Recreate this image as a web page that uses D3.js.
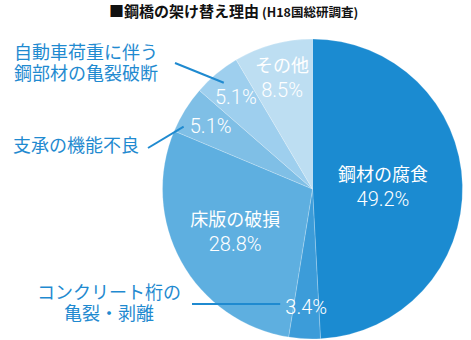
<!DOCTYPE html>
<html><head><meta charset="utf-8">
<script src="https://cdn.jsdelivr.net/npm/d3@7"></script>
<style>body{margin:0;background:#fff;} svg{display:block;}</style>
</head><body>
<svg id="c" width="471" height="340"></svg>
<script>
const categories = ["鋼材の腐食","コンクリート桁の亀裂・剥離","床版の破損","支承の機能不良","自動車荷重に伴う鋼部材の亀裂破断","その他"];
const values = [49.2, 3.4, 28.8, 5.1, 5.1, 8.5];
const colors = ["#1b8bd1","#3c9cd9","#5eafe0","#7fbfe6","#9ecfee","#bddef2"];
const insideNames = ["鋼材の腐食", null, "床版の破損", null, null, "その他"];
const labelRadius = [0.47, 0.79, 0.59, 0.8, 0.8, 0.77];
const outsideLabels = [null, ["コンクリート桁の","亀裂・剥離"], null, ["支承の機能不良"], ["自動車荷重に伴う","鋼部材の亀裂破断"], null];

const svg = d3.select("#c");
const cx = 312.5, cy = 189, R = 150;
const font = "'Noto Sans CJK JP', 'Noto Sans', sans-serif";
const numFont = "Roboto, 'Liberation Sans', sans-serif";

// title
const t = svg.append("text").attr("x", 109).attr("y", 17).attr("font-family", font).attr("font-weight", "bold").attr("fill", "#111");
t.append("tspan").attr("font-size", 15).text("■鋼橋の架け替え理由");
t.append("tspan").attr("font-size", 12.5).attr("dx", 3).text("(H18国総研調査)");

const pie = d3.pie().sort(null).value(d => d)(values);
const arc = d3.arc().innerRadius(0).outerRadius(R);
const g = svg.append("g").attr("transform", `translate(${cx},${cy})`);
g.selectAll("path").data(pie).join("path")
  .attr("d", arc)
  .attr("fill", (d, i) => colors[i])
  .attr("stroke", "rgba(255,255,255,0.35)")
  .attr("stroke-width", 0.6);

function pos(d, i) {
  const a = (d.startAngle + d.endAngle) / 2;
  const r = R * labelRadius[i];
  return [Math.sin(a) * r, -Math.cos(a) * r];
}

pie.forEach((d, i) => {
  const [x, y] = pos(d, i);
  const pct = values[i].toFixed(1) + "%";
  if (insideNames[i]) {
    g.append("text").attr("font-family", font).attr("font-size", 18).attr("fill", "#fff")
      .attr("text-anchor", "middle").attr("x", x).attr("y", y - 6).text(insideNames[i]);
    g.append("text").attr("font-family", numFont).attr("font-weight", 300).attr("font-size", 20).attr("fill", "#fff")
      .attr("text-anchor", "middle").attr("x", x).attr("y", y + 19).text(pct);
  } else {
    g.append("text").attr("font-family", numFont).attr("font-weight", 300).attr("font-size", 20).attr("fill", "#fff")
      .attr("text-anchor", "middle").attr("x", x).attr("y", y + 7).text(pct);
  }
});

// outside labels with leader lines
const outPos = {1: {x: 109, y: 299, lx1: 192, ly1: 304},
                3: {x: 76,  y: 152, lx1: 148, ly1: 148},
                4: {x: 86,  y: 59,  lx1: 175, ly1: 63}};
pie.forEach((d, i) => {
  if (!outsideLabels[i]) return;
  const o = outPos[i];
  const [x, y] = pos(d, i);
  const lines = outsideLabels[i];
  lines.forEach((s, k) => svg.append("text").attr("font-family", font).attr("font-size", 18).attr("fill", "#1f8ad0")
    .attr("text-anchor", "middle").attr("x", o.x).attr("y", o.y + k * 21).text(s));
  let ex, ey;
  if (i === 1) { ex = cx + x - 26; ey = o.ly1; }
  else if (i === 3) { ex = cx + x - 27; ey = cy + y + 1; }
  else { ex = cx + x - 12; ey = cy + y - 14; }
  svg.append("line").attr("x1", o.lx1).attr("y1", o.ly1).attr("x2", ex).attr("y2", ey)
    .attr("stroke", "#1f8ad0").attr("stroke-width", 2);
});
</script>
</body></html>
